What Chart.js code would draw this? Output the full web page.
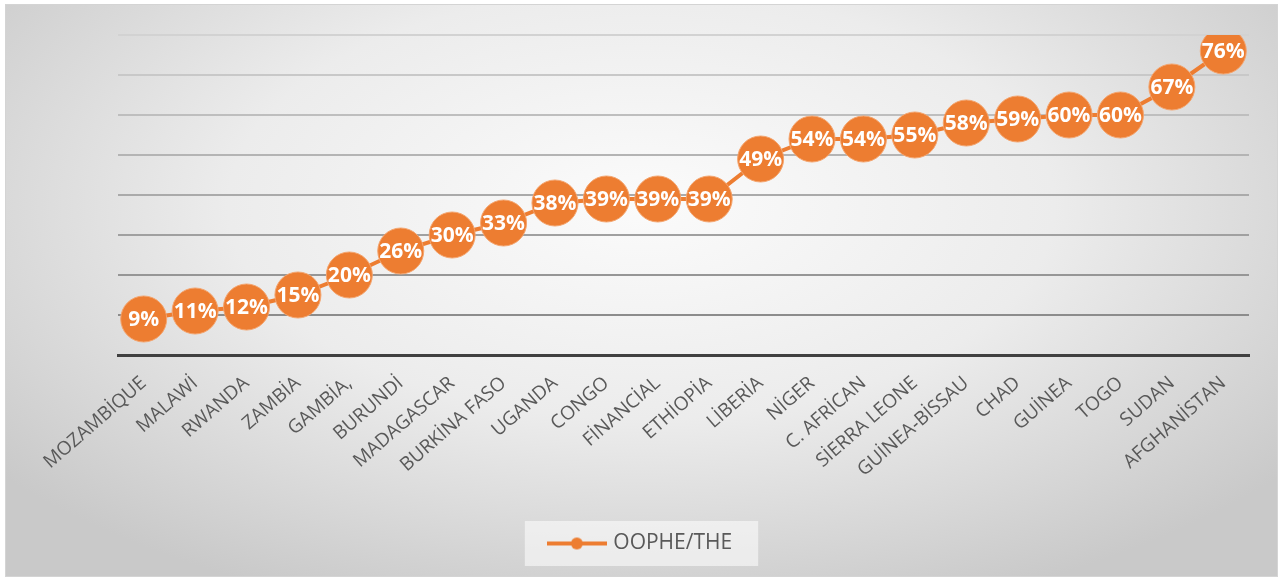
<!DOCTYPE html>
<html lang="en">
<head>
    <meta charset="UTF-8">
    <title>OOPHE/THE</title>
    <script src="https://cdn.jsdelivr.net/npm/chart.js"></script>
    <style>
        body {
            margin: 0;
            padding: 0;
            background: #ffffff;
            font-family: "Open Sans", sans-serif;
        }
        .frame {
            position: absolute;
            left: 5px;
            top: 4px;
            width: 1271px;
            height: 571px;
            border: 1px solid #d4d4d4;
            background: radial-gradient(ellipse 65% 75% at 50% 35%, #fbfbfb 0%, #ececec 50%, #c9c9c9 100%);
        }
        canvas {
            display: block;
        }
    </style>
</head>
<body>
    <div class="frame">
        <canvas id="oopheChart" width="1271" height="571"></canvas>
    </div>

    <script>
        const countries = ['MOZAMBİQUE', 'MALAWİ', 'RWANDA', 'ZAMBİA', 'GAMBİA,', 'BURUNDİ', 'MADAGASCAR',
            'BURKİNA FASO', 'UGANDA', 'CONGO', 'FİNANCİAL', 'ETHİOPİA', 'LİBERİA', 'NİGER', 'C. AFRİCAN',
            'SİERRA LEONE', 'GUİNEA-BİSSAU', 'CHAD', 'GUİNEA', 'TOGO', 'SUDAN', 'AFGHANİSTAN'];
        const oopheShare = [9, 11, 12, 15, 20, 26, 30, 33, 38, 39, 39, 39, 49, 54, 54, 55, 58, 59, 60, 60, 67, 76];
        const seriesName = 'OOPHE/THE';
        const yTicks = [0, 10, 20, 30, 40, 50, 60, 70, 80];

        const ORANGE = '#ED7D31';

        // line-with-dot marker for the legend
        const legendMarker = document.createElement('canvas');
        legendMarker.width = 60;
        legendMarker.height = 14;
        (function () {
            const c = legendMarker.getContext('2d');
            c.strokeStyle = ORANGE;
            c.lineWidth = 4;
            c.beginPath();
            c.moveTo(0, 7);
            c.lineTo(60, 7);
            c.stroke();
            c.fillStyle = ORANGE;
            c.beginPath();
            c.arc(30, 7, 6, 0, Math.PI * 2);
            c.fill();
        })();

        const pointLabels = {
            id: 'pointLabels',
            afterDatasetsDraw(chart) {
                const ctx = chart.ctx;
                const meta = chart.getDatasetMeta(0);
                ctx.save();
                ctx.font = 'bold 21px "Open Sans"';
                ctx.fillStyle = '#ffffff';
                ctx.textAlign = 'center';
                ctx.textBaseline = 'middle';
                meta.data.forEach((pt, i) => {
                    ctx.fillText(oopheShare[i] + '%', pt.x, pt.y + 1);
                });
                ctx.restore();
            }
        };

        const legendBack = {
            id: 'legendBack',
            beforeDraw(chart) {
                const box = chart.legend.legendHitBoxes[0];
                if (!box) return;
                const ctx = chart.ctx;
                ctx.save();
                ctx.fillStyle = 'rgba(255, 255, 255, 0.55)';
                ctx.fillRect(box.left - 26, box.top + box.height / 2 - 22.5, box.width + 52, 45);
                ctx.restore();
            }
        };

        function gridColor(ctx) {
            const v = ctx.tick ? ctx.tick.value : 0;
            if (v === 0) return 'rgba(0,0,0,0)';
            const t = (v - 10) / 70;
            const g = Math.round(140 + t * 70);
            return `rgb(${g}, ${g}, ${g})`;
        }

        new Chart(document.getElementById('oopheChart'), {
            type: 'line',
            data: {
                labels: countries,
                datasets: [{
                    label: seriesName,
                    data: oopheShare,
                    borderColor: ORANGE,
                    backgroundColor: ORANGE,
                    borderWidth: 4,
                    tension: 0,
                    pointRadius: 23,
                    pointBackgroundColor: ORANGE,
                    pointBorderColor: '#F3A46E',
                    pointBorderWidth: 1
                }]
            },
            options: {
                responsive: false,
                animation: false,
                layout: {
                    padding: { top: 30, left: 0, right: 0, bottom: 12 }
                },
                plugins: {
                    legend: {
                        position: 'bottom',
                        labels: {
                            usePointStyle: true,
                            pointStyle: legendMarker,
                            pointStyleWidth: 52,
                            color: '#595959',
                            font: { family: 'Open Sans', size: 21 },
                            padding: 10
                        }
                    },
                    tooltip: { enabled: false }
                },
                scales: {
                    x: {
                        offset: true,
                        grid: { display: false },
                        border: { display: true, color: '#404040', width: 3 },
                        ticks: {
                            autoSkip: false,
                            maxRotation: 41,
                            minRotation: 41,
                            padding: 9,
                            color: '#595959',
                            font: { family: 'Open Sans', size: 19 }
                        },
                        afterFit(scale) {
                            scale.height = 168;
                        }
                    },
                    y: {
                        min: yTicks[0],
                        max: yTicks[yTicks.length - 1],
                        afterBuildTicks(scale) {
                            scale.ticks = yTicks.map(v => ({ value: v }));
                        },
                        grid: { color: gridColor, lineWidth: 2, drawTicks: false },
                        border: { display: false },
                        ticks: { display: false },
                        afterFit(scale) {
                            scale.width = 112;
                        }
                    },
                    yRight: {
                        position: 'right',
                        min: 0,
                        max: 80,
                        grid: { display: false },
                        border: { display: false },
                        ticks: { display: false },
                        afterFit(scale) {
                            scale.width = 28;
                        }
                    }
                }
            },
            plugins: [legendBack, pointLabels]
        });
    </script>
</body>
</html>
